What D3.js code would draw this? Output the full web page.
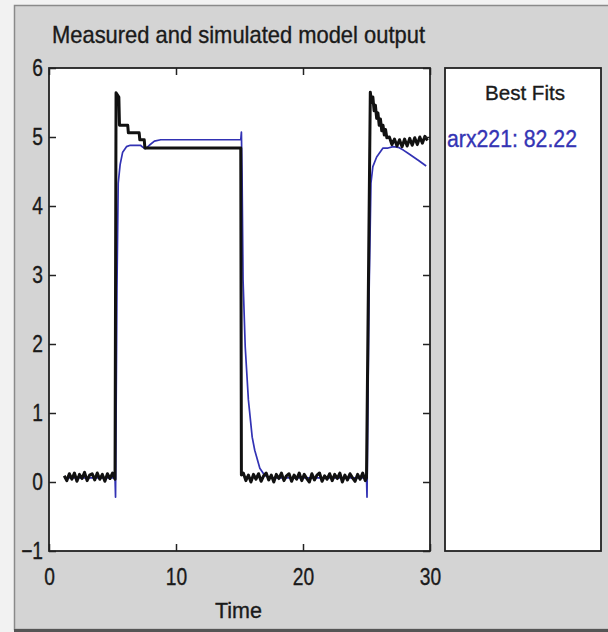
<!DOCTYPE html>
<html>
<head>
<meta charset="utf-8">
<script src="https://cdn.jsdelivr.net/npm/d3@7"></script>
<style>
  html, body { margin: 0; padding: 0; background: #f2f2f2; }
  svg { display: block; }
  text { font-family: "Liberation Sans", Arial, sans-serif; fill: #1a1a1a; stroke: #1a1a1a; stroke-width: 0.35px; }
</style>
</head>
<body>
<svg id="chart" width="608" height="632"></svg>
<script>
// ---------------- data ----------------
const titleText = "Measured and simulated model output";
const xLabelText = "Time";
const legendTitle = "Best Fits";
const legendEntry = "arx221: 82.22";
const xTicks = [0, 10, 20, 30];
const yTicks = [-1, 0, 1, 2, 3, 4, 5, 6];
const xDomain = [0, 30];
const yDomain = [-1, 6];

// measured output: [time, value]
const measured = [
  [1.2,0.09],[1.4,0.02],[1.6,0.12],[1.8,0.04],[2.0,0.13],[2.2,0.01],[2.4,0.11],[2.6,0.05],
  [2.8,0.14],[3.0,0.02],[3.2,0.10],[3.4,0.12],[3.6,0.03],[3.8,0.13],[4.0,0.04],[4.2,0.11],
  [4.4,0.01],[4.6,0.12],[4.8,0.05],[5.0,0.13],[5.2,0.04],
  [5.28,5.64],[5.5,5.58],[5.55,5.17],[6.2,5.17],[6.25,5.06],[7.1,5.06],[7.15,4.96],
  [7.5,4.96],[7.55,4.84],[15.1,4.84],
  [15.15,0.10],[15.3,0.13],[15.5,0.02],[15.7,0.10],[15.9,0.00],[16.1,0.11],[16.3,0.04],
  [16.5,0.12],[16.7,0.01],[16.9,0.09],[17.1,0.13],[17.3,0.03],[17.5,0.10],[17.7,0.00],
  [17.9,0.11],[18.1,0.05],[18.3,0.13],[18.5,0.02],[18.7,0.09],[18.9,0.12],[19.1,0.01],
  [19.3,0.10],[19.5,0.04],[19.7,0.13],[19.9,0.02],[20.1,0.11],[20.3,0.05],[20.5,0.00],
  [20.7,0.12],[20.9,0.03],[21.1,0.10],[21.3,0.13],[21.5,0.01],[21.7,0.09],[21.9,0.04],
  [22.1,0.12],[22.3,0.02],[22.5,0.11],[22.7,0.05],[22.9,0.13],[23.1,0.00],[23.3,0.10],
  [23.5,0.03],[23.7,0.12],[23.9,0.06],[24.1,0.01],[24.3,0.11],[24.5,0.04],[24.7,0.13],
  [24.9,0.02],[25.0,0.06],
  [25.3,5.65],[25.4,5.50],[25.5,5.58],[25.6,5.38],[25.7,5.46],[25.8,5.27],[25.9,5.35],
  [26.0,5.17],[26.1,5.26],[26.2,5.09],[26.3,5.17],[26.4,5.03],[26.5,5.11],[26.6,4.99],
  [26.8,5.00],[27.0,4.89],[27.2,4.97],[27.4,4.87],[27.6,4.96],[27.8,4.86],[28.0,4.97],
  [28.2,4.87],[28.4,4.98],[28.6,4.88],[28.8,4.99],[29.0,4.89],[29.2,5.00],[29.4,4.91],
  [29.6,5.01],[29.8,4.95]
];

// simulated model output (arx221): [time, value]
const simulated = [
  [1.2,0.06],[5.2,0.06],[5.24,-0.22],[5.35,2.8],[5.45,4.33],[5.6,4.6],[5.8,4.78],[6.1,4.86],
  [6.4,4.88],[7.2,4.88],[7.4,4.85],[7.6,4.83],[7.9,4.88],[8.3,4.94],[8.8,4.96],[15.1,4.96],
  [15.15,5.07],[15.2,4.48],[15.28,2.93],[15.45,1.96],[15.7,1.19],[16.0,0.65],[16.2,0.46],
  [16.6,0.20],[17.0,0.09],[17.6,0.06],[25.0,0.06],[25.04,-0.22],[25.2,2.7],[25.35,4.33],
  [25.5,4.57],[25.8,4.71],[26.3,4.84],[26.7,4.84],[27.1,4.86],[27.5,4.85],[27.9,4.81],
  [28.3,4.76],[28.7,4.71],[29.1,4.66],[29.4,4.62],[29.7,4.58]
];

// ---------------- drawing ----------------
const svg = d3.select("#chart");
const W = 608, H = 632;
const plot = { left: 49, right: 430, top: 68, bottom: 551 };

// figure background panel
svg.append("rect").attr("x", 0).attr("y", 0).attr("width", W).attr("height", H).attr("fill", "#f2f2f2");
svg.append("rect").attr("x", 14.5).attr("y", 5.5).attr("width", W).attr("height", 624)
  .attr("fill", "#d4d4d4").attr("stroke", "#8a8a8a").attr("stroke-width", 1.5);
svg.append("rect").attr("x", 14).attr("y", 629).attr("width", W).attr("height", 3).attr("fill", "#555");

const x = d3.scaleLinear().domain(xDomain).range([plot.left, plot.right]);
const y = d3.scaleLinear().domain(yDomain).range([plot.bottom, plot.top]);

// plot area
svg.append("rect").attr("x", plot.left).attr("y", plot.top)
  .attr("width", plot.right - plot.left).attr("height", plot.bottom - plot.top)
  .attr("fill", "#fff");

// clip
svg.append("clipPath").attr("id", "clip").append("rect")
  .attr("x", plot.left).attr("y", plot.top)
  .attr("width", plot.right - plot.left).attr("height", plot.bottom - plot.top);

const line = d3.line().x(d => x(d[0])).y(d => y(d[1]));
const lines = svg.append("g").attr("clip-path", "url(#clip)");
lines.append("path").datum(simulated).attr("d", line)
  .attr("fill", "none").attr("stroke", "#3232b4").attr("stroke-width", 1.7)
  .attr("stroke-linejoin", "round");
lines.append("path").datum(measured).attr("d", line)
  .attr("fill", "none").attr("stroke", "#111").attr("stroke-width", 3)
  .attr("stroke-linejoin", "round");

// axes with inward ticks
const tickLen = 7;
const axL = svg.append("g").attr("transform", `translate(${plot.left},0)`)
  .call(d3.axisLeft(y).tickValues(yTicks).tickSizeInner(-tickLen).tickSizeOuter(0).tickPadding(7.5).tickFormat(d3.format("d")));
const axB = svg.append("g").attr("transform", `translate(0,${plot.bottom})`)
  .call(d3.axisBottom(x).tickValues(xTicks).tickSizeInner(-tickLen).tickSizeOuter(0).tickPadding(17).tickFormat(d3.format("d")));
const axT = svg.append("g").attr("transform", `translate(0,${plot.top})`)
  .call(d3.axisTop(x).tickValues(xTicks).tickSizeInner(-tickLen).tickSizeOuter(0).tickFormat(""));
const axR = svg.append("g").attr("transform", `translate(${plot.right},0)`)
  .call(d3.axisRight(y).tickValues(yTicks).tickSizeInner(-tickLen).tickSizeOuter(0).tickFormat(""));

[axL, axB, axT, axR].forEach(a => {
  a.select(".domain").remove();
  a.selectAll(".tick line").attr("stroke", "#222").attr("stroke-width", 1.5);
});
[axL, axB].forEach(a => {
  a.selectAll(".tick text")
    .attr("transform", "scale(0.8,1)")
    .style("font-size", "24px").attr("fill", "#1a1a1a");
});

// frame
svg.append("rect").attr("x", plot.left).attr("y", plot.top)
  .attr("width", plot.right - plot.left).attr("height", plot.bottom - plot.top)
  .attr("fill", "none").attr("stroke", "#222").attr("stroke-width", 1.8);

// title
svg.append("text").attr("x", 52).attr("y", 43).text(titleText)
  .style("font-size", "24px").attr("textLength", 373).attr("lengthAdjust", "spacingAndGlyphs");

// x label
svg.append("text").attr("x", 215).attr("y", 618).text(xLabelText)
  .style("font-size", "22px").attr("textLength", 47).attr("lengthAdjust", "spacingAndGlyphs");

// legend box
svg.append("rect").attr("x", 445).attr("y", plot.top).attr("width", 156).attr("height", plot.bottom - plot.top)
  .attr("fill", "#fff").attr("stroke", "#222").attr("stroke-width", 1.8);
svg.append("text").attr("x", 485).attr("y", 100).text(legendTitle)
  .style("font-size", "21px").attr("textLength", 80).attr("lengthAdjust", "spacingAndGlyphs");
svg.append("text").attr("x", 447).attr("y", 147).text(legendEntry)
  .style("font-size", "23px").style("fill", "#3434b4").style("stroke", "#3434b4")
  .attr("textLength", 130).attr("lengthAdjust", "spacingAndGlyphs");
</script>
</body>
</html>
